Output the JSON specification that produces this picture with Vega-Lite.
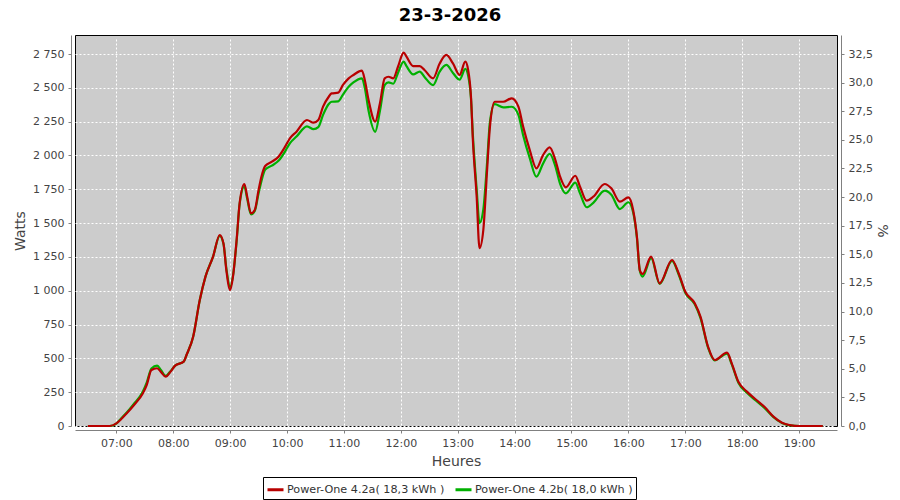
{
  "$schema": "https://vega.github.io/schema/vega-lite/v6.json",
  "autosize": {"type": "none"},
  "width": 762,
  "height": 391,
  "padding": {"left": 75, "top": 35, "right": 63, "bottom": 74},
  "background": "white",
  "title": {"text": "23-3-2026", "font": "DejaVu Sans", "fontSize": 18, "fontWeight": "bold", "color": "black", "anchor": "middle", "frame": "group", "dx": -6, "offset": 10},
  "datasets": {
    "red": [
      {"t": "2026-03-23T06:30", "w": 0}, {"t": "2026-03-23T06:53", "w": 0}, {"t": "2026-03-23T07:00", "w": 20},
      {"t": "2026-03-23T07:05", "w": 50}, {"t": "2026-03-23T07:11", "w": 94}, {"t": "2026-03-23T07:18", "w": 150},
      {"t": "2026-03-23T07:28", "w": 242}, {"t": "2026-03-23T07:32", "w": 303}, {"t": "2026-03-23T07:37", "w": 414},
      {"t": "2026-03-23T07:43", "w": 427}, {"t": "2026-03-23T07:47", "w": 400}, {"t": "2026-03-23T07:52", "w": 365},
      {"t": "2026-03-23T07:57", "w": 400}, {"t": "2026-03-23T08:02", "w": 446}, {"t": "2026-03-23T08:11", "w": 476},
      {"t": "2026-03-23T08:14", "w": 525}, {"t": "2026-03-23T08:21", "w": 660}, {"t": "2026-03-23T08:28", "w": 931},
      {"t": "2026-03-23T08:34", "w": 1104}, {"t": "2026-03-23T08:42", "w": 1252}, {"t": "2026-03-23T08:49", "w": 1412},
      {"t": "2026-03-23T08:53", "w": 1350}, {"t": "2026-03-23T08:56", "w": 1153}, {"t": "2026-03-23T09:00", "w": 1005},
      {"t": "2026-03-23T09:03", "w": 1104}, {"t": "2026-03-23T09:07", "w": 1388}, {"t": "2026-03-23T09:10", "w": 1646},
      {"t": "2026-03-23T09:15", "w": 1789}, {"t": "2026-03-23T09:18", "w": 1695}, {"t": "2026-03-23T09:22", "w": 1572},
      {"t": "2026-03-23T09:26", "w": 1597}, {"t": "2026-03-23T09:30", "w": 1745}, {"t": "2026-03-23T09:33", "w": 1843},
      {"t": "2026-03-23T09:37", "w": 1922}, {"t": "2026-03-23T09:44", "w": 1954}, {"t": "2026-03-23T09:51", "w": 1991},
      {"t": "2026-03-23T09:58", "w": 2065}, {"t": "2026-03-23T10:03", "w": 2127}, {"t": "2026-03-23T10:10", "w": 2176},
      {"t": "2026-03-23T10:21", "w": 2262}, {"t": "2026-03-23T10:28", "w": 2242}, {"t": "2026-03-23T10:33", "w": 2262},
      {"t": "2026-03-23T10:38", "w": 2361}, {"t": "2026-03-23T10:44", "w": 2434}, {"t": "2026-03-23T10:47", "w": 2459},
      {"t": "2026-03-23T10:54", "w": 2464}, {"t": "2026-03-23T10:59", "w": 2521}, {"t": "2026-03-23T11:05", "w": 2570},
      {"t": "2026-03-23T11:10", "w": 2595}, {"t": "2026-03-23T11:19", "w": 2627}, {"t": "2026-03-23T11:22", "w": 2558},
      {"t": "2026-03-23T11:26", "w": 2410}, {"t": "2026-03-23T11:33", "w": 2250}, {"t": "2026-03-23T11:38", "w": 2386},
      {"t": "2026-03-23T11:43", "w": 2570}, {"t": "2026-03-23T11:47", "w": 2582}, {"t": "2026-03-23T11:52", "w": 2570},
      {"t": "2026-03-23T11:57", "w": 2656}, {"t": "2026-03-23T12:03", "w": 2760}, {"t": "2026-03-23T12:06", "w": 2730},
      {"t": "2026-03-23T12:13", "w": 2661}, {"t": "2026-03-23T12:20", "w": 2661}, {"t": "2026-03-23T12:25", "w": 2632},
      {"t": "2026-03-23T12:34", "w": 2570}, {"t": "2026-03-23T12:41", "w": 2680}, {"t": "2026-03-23T12:48", "w": 2743},
      {"t": "2026-03-23T12:55", "w": 2680}, {"t": "2026-03-23T13:02", "w": 2595}, {"t": "2026-03-23T13:08", "w": 2693},
      {"t": "2026-03-23T13:11", "w": 2632}, {"t": "2026-03-23T13:14", "w": 2434}, {"t": "2026-03-23T13:16", "w": 2114},
      {"t": "2026-03-23T13:20", "w": 1695}, {"t": "2026-03-23T13:23", "w": 1314}, {"t": "2026-03-23T13:27", "w": 1449},
      {"t": "2026-03-23T13:31", "w": 1893}, {"t": "2026-03-23T13:34", "w": 2213}, {"t": "2026-03-23T13:39", "w": 2397},
      {"t": "2026-03-23T13:48", "w": 2397}, {"t": "2026-03-23T13:57", "w": 2422}, {"t": "2026-03-23T14:04", "w": 2361},
      {"t": "2026-03-23T14:09", "w": 2213}, {"t": "2026-03-23T14:16", "w": 2040}, {"t": "2026-03-23T14:23", "w": 1905},
      {"t": "2026-03-23T14:30", "w": 2003}, {"t": "2026-03-23T14:37", "w": 2060}, {"t": "2026-03-23T14:43", "w": 1966},
      {"t": "2026-03-23T14:48", "w": 1843}, {"t": "2026-03-23T14:54", "w": 1764}, {"t": "2026-03-23T15:04", "w": 1850},
      {"t": "2026-03-23T15:09", "w": 1769}, {"t": "2026-03-23T15:16", "w": 1666}, {"t": "2026-03-23T15:23", "w": 1695},
      {"t": "2026-03-23T15:35", "w": 1789}, {"t": "2026-03-23T15:42", "w": 1757}, {"t": "2026-03-23T15:51", "w": 1658},
      {"t": "2026-03-23T16:00", "w": 1690}, {"t": "2026-03-23T16:05", "w": 1597}, {"t": "2026-03-23T16:09", "w": 1399},
      {"t": "2026-03-23T16:12", "w": 1153}, {"t": "2026-03-23T16:15", "w": 1124}, {"t": "2026-03-23T16:24", "w": 1252},
      {"t": "2026-03-23T16:33", "w": 1055}, {"t": "2026-03-23T16:46", "w": 1227}, {"t": "2026-03-23T16:53", "w": 1129},
      {"t": "2026-03-23T17:00", "w": 993}, {"t": "2026-03-23T17:10", "w": 907}, {"t": "2026-03-23T17:16", "w": 808},
      {"t": "2026-03-23T17:24", "w": 586}, {"t": "2026-03-23T17:31", "w": 488}, {"t": "2026-03-23T17:44", "w": 542},
      {"t": "2026-03-23T17:49", "w": 463}, {"t": "2026-03-23T17:56", "w": 327}, {"t": "2026-03-23T18:05", "w": 254},
      {"t": "2026-03-23T18:15", "w": 192}, {"t": "2026-03-23T18:24", "w": 138}, {"t": "2026-03-23T18:33", "w": 69},
      {"t": "2026-03-23T18:42", "w": 24}, {"t": "2026-03-23T18:50", "w": 7}, {"t": "2026-03-23T19:01", "w": 0},
      {"t": "2026-03-23T19:25", "w": 0}
    ],
    "green": [
      {"t": "2026-03-23T06:30", "w": 0}, {"t": "2026-03-23T06:53", "w": 0}, {"t": "2026-03-23T07:00", "w": 18},
      {"t": "2026-03-23T07:05", "w": 55}, {"t": "2026-03-23T07:11", "w": 100}, {"t": "2026-03-23T07:18", "w": 160},
      {"t": "2026-03-23T07:28", "w": 255}, {"t": "2026-03-23T07:32", "w": 320}, {"t": "2026-03-23T07:37", "w": 425},
      {"t": "2026-03-23T07:43", "w": 446}, {"t": "2026-03-23T07:47", "w": 415}, {"t": "2026-03-23T07:52", "w": 370},
      {"t": "2026-03-23T07:57", "w": 405}, {"t": "2026-03-23T08:02", "w": 446}, {"t": "2026-03-23T08:11", "w": 476},
      {"t": "2026-03-23T08:14", "w": 525}, {"t": "2026-03-23T08:21", "w": 660}, {"t": "2026-03-23T08:28", "w": 931},
      {"t": "2026-03-23T08:34", "w": 1104}, {"t": "2026-03-23T08:42", "w": 1252}, {"t": "2026-03-23T08:49", "w": 1405},
      {"t": "2026-03-23T08:53", "w": 1345}, {"t": "2026-03-23T08:56", "w": 1165}, {"t": "2026-03-23T09:00", "w": 1030},
      {"t": "2026-03-23T09:03", "w": 1110}, {"t": "2026-03-23T09:07", "w": 1380}, {"t": "2026-03-23T09:10", "w": 1640},
      {"t": "2026-03-23T09:15", "w": 1770}, {"t": "2026-03-23T09:18", "w": 1680}, {"t": "2026-03-23T09:22", "w": 1565},
      {"t": "2026-03-23T09:26", "w": 1590}, {"t": "2026-03-23T09:30", "w": 1720}, {"t": "2026-03-23T09:33", "w": 1810},
      {"t": "2026-03-23T09:37", "w": 1895}, {"t": "2026-03-23T09:44", "w": 1925}, {"t": "2026-03-23T09:51", "w": 1960},
      {"t": "2026-03-23T09:58", "w": 2030}, {"t": "2026-03-23T10:03", "w": 2090}, {"t": "2026-03-23T10:10", "w": 2140},
      {"t": "2026-03-23T10:21", "w": 2215}, {"t": "2026-03-23T10:28", "w": 2195}, {"t": "2026-03-23T10:33", "w": 2210},
      {"t": "2026-03-23T10:38", "w": 2300}, {"t": "2026-03-23T10:44", "w": 2380}, {"t": "2026-03-23T10:47", "w": 2397},
      {"t": "2026-03-23T10:54", "w": 2400}, {"t": "2026-03-23T10:59", "w": 2450}, {"t": "2026-03-23T11:05", "w": 2508},
      {"t": "2026-03-23T11:10", "w": 2540}, {"t": "2026-03-23T11:19", "w": 2570}, {"t": "2026-03-23T11:22", "w": 2500},
      {"t": "2026-03-23T11:26", "w": 2330}, {"t": "2026-03-23T11:33", "w": 2175}, {"t": "2026-03-23T11:38", "w": 2330},
      {"t": "2026-03-23T11:43", "w": 2520}, {"t": "2026-03-23T11:47", "w": 2540}, {"t": "2026-03-23T11:52", "w": 2530},
      {"t": "2026-03-23T11:57", "w": 2610}, {"t": "2026-03-23T12:03", "w": 2693}, {"t": "2026-03-23T12:06", "w": 2660},
      {"t": "2026-03-23T12:13", "w": 2600}, {"t": "2026-03-23T12:20", "w": 2620}, {"t": "2026-03-23T12:25", "w": 2580},
      {"t": "2026-03-23T12:34", "w": 2520}, {"t": "2026-03-23T12:41", "w": 2620}, {"t": "2026-03-23T12:48", "w": 2669},
      {"t": "2026-03-23T12:55", "w": 2610}, {"t": "2026-03-23T13:02", "w": 2560}, {"t": "2026-03-23T13:08", "w": 2640},
      {"t": "2026-03-23T13:11", "w": 2590}, {"t": "2026-03-23T13:14", "w": 2420}, {"t": "2026-03-23T13:16", "w": 2150},
      {"t": "2026-03-23T13:20", "w": 1750}, {"t": "2026-03-23T13:23", "w": 1500}, {"t": "2026-03-23T13:27", "w": 1600},
      {"t": "2026-03-23T13:31", "w": 1950}, {"t": "2026-03-23T13:34", "w": 2250}, {"t": "2026-03-23T13:39", "w": 2380},
      {"t": "2026-03-23T13:48", "w": 2356}, {"t": "2026-03-23T13:57", "w": 2360}, {"t": "2026-03-23T14:04", "w": 2300},
      {"t": "2026-03-23T14:09", "w": 2150}, {"t": "2026-03-23T14:16", "w": 1980}, {"t": "2026-03-23T14:23", "w": 1843},
      {"t": "2026-03-23T14:30", "w": 1940}, {"t": "2026-03-23T14:37", "w": 2011}, {"t": "2026-03-23T14:43", "w": 1920},
      {"t": "2026-03-23T14:48", "w": 1790}, {"t": "2026-03-23T14:54", "w": 1720}, {"t": "2026-03-23T15:04", "w": 1799},
      {"t": "2026-03-23T15:09", "w": 1720}, {"t": "2026-03-23T15:16", "w": 1617}, {"t": "2026-03-23T15:23", "w": 1650},
      {"t": "2026-03-23T15:35", "w": 1740}, {"t": "2026-03-23T15:42", "w": 1710}, {"t": "2026-03-23T15:51", "w": 1604},
      {"t": "2026-03-23T16:00", "w": 1654}, {"t": "2026-03-23T16:05", "w": 1580}, {"t": "2026-03-23T16:09", "w": 1390},
      {"t": "2026-03-23T16:12", "w": 1150}, {"t": "2026-03-23T16:15", "w": 1105}, {"t": "2026-03-23T16:24", "w": 1240},
      {"t": "2026-03-23T16:33", "w": 1050}, {"t": "2026-03-23T16:46", "w": 1220}, {"t": "2026-03-23T16:53", "w": 1120},
      {"t": "2026-03-23T17:00", "w": 985}, {"t": "2026-03-23T17:10", "w": 900}, {"t": "2026-03-23T17:16", "w": 800},
      {"t": "2026-03-23T17:24", "w": 580}, {"t": "2026-03-23T17:31", "w": 485}, {"t": "2026-03-23T17:44", "w": 535},
      {"t": "2026-03-23T17:49", "w": 455}, {"t": "2026-03-23T17:56", "w": 320}, {"t": "2026-03-23T18:05", "w": 245},
      {"t": "2026-03-23T18:15", "w": 185}, {"t": "2026-03-23T18:24", "w": 130}, {"t": "2026-03-23T18:33", "w": 65},
      {"t": "2026-03-23T18:42", "w": 22}, {"t": "2026-03-23T18:50", "w": 5}, {"t": "2026-03-23T19:01", "w": 0},
      {"t": "2026-03-23T19:25", "w": 0}
    ],
    "pct": [{"p": 0}]
  },
  "layer": [
    {
      "layer": [
        {
          "data": {"name": "green", "format": {"parse": {"t": "utc:'%Y-%m-%dT%H:%M'"}}},
          "mark": {"type": "line", "interpolate": "monotone", "strokeWidth": 2.2},
          "encoding": {
            "x": {
              "field": "t", "type": "temporal", "title": "Heures",
              "scale": {"type": "utc", "domain": [1774246584000, 1774294800000]},
              "axis": {"format": "%H:%M", "tickCount": "hour", "grid": true, "titlePadding": 6, "labelOverlap": false}
            },
            "y": {
              "field": "w", "type": "quantitative", "title": "Watts",
              "scale": {"domain": [0, 2890.5], "nice": false},
              "axis": {"values": [0, 250, 500, 750, 1000, 1250, 1500, 1750, 2000, 2250, 2500, 2750], "labelExpr": "replace(format(datum.value, ',d'), ',', ' ')", "grid": true, "titlePadding": 5, "labelOverlap": false, "labelBound": false}
            },
            "color": {
              "datum": "Power-One 4.2b( 18,0 kWh )",
              "type": "nominal",
              "scale": {"domain": ["Power-One 4.2a( 18,3 kWh )", "Power-One 4.2b( 18,0 kWh )"], "range": ["#b80000", "#00b000"]},
              "legend": {"title": null, "orient": "none", "legendX": 188, "legendY": 442, "direction": "horizontal"}
            }
          }
        },
        {
          "data": {"name": "red", "format": {"parse": {"t": "utc:'%Y-%m-%dT%H:%M'"}}},
          "mark": {"type": "line", "interpolate": "monotone", "strokeWidth": 2.2},
          "encoding": {
            "x": {
              "field": "t", "type": "temporal", "title": "Heures",
              "axis": {"format": "%H:%M", "tickCount": "hour", "grid": true, "titlePadding": 6, "labelOverlap": false}
            },
            "y": {
              "field": "w", "type": "quantitative", "title": "Watts",
              "axis": {"values": [0, 250, 500, 750, 1000, 1250, 1500, 1750, 2000, 2250, 2500, 2750], "labelExpr": "replace(format(datum.value, ',d'), ',', ' ')", "grid": true, "titlePadding": 5, "labelOverlap": false, "labelBound": false}
            },
            "color": {"datum": "Power-One 4.2a( 18,3 kWh )", "type": "nominal"}
          }
        }
      ]
    },
    {
      "data": {"name": "pct"},
      "mark": {"type": "point", "opacity": 0},
      "encoding": {
        "y": {
          "field": "p", "type": "quantitative", "title": "%",
          "scale": {"domain": [0, 34.16], "nice": false},
          "axis": {"orient": "right", "grid": false, "values": [0, 2.5, 5, 7.5, 10, 12.5, 15, 17.5, 20, 22.5, 25, 27.5, 30, 32.5], "labelExpr": "replace(format(datum.value, '.1f'), '.', ',')", "titlePadding": 2, "labelOverlap": false}
        }
      }
    }
  ],
  "resolve": {"scale": {"y": "independent"}},
  "config": {
    "view": {"fill": "#cccccc", "stroke": "black", "strokeWidth": 1},
    "axis": {
      "domainColor": "#808080", "tickColor": "#808080", "tickSize": 3, "offset": 4,
      "labelColor": "#444444", "labelFont": "DejaVu Sans", "labelFontSize": 11, "labelPadding": 4,
      "titleColor": "#444444", "titleFont": "DejaVu Sans", "titleFontSize": 14, "titleFontWeight": "normal",
      "gridColor": "white", "gridDash": [2, 2], "gridOpacity": 1, "gridWidth": 1
    },
    "legend": {
      "strokeColor": "black", "fillColor": "white", "padding": 3,
      "symbolType": "stroke", "symbolSize": 256, "symbolStrokeWidth": 3,
      "labelFont": "DejaVu Sans", "labelFontSize": 11.2, "labelColor": "#333333", "labelOffset": 2, "columnPadding": 4, "labelLimit": 0
    }
  }
}
